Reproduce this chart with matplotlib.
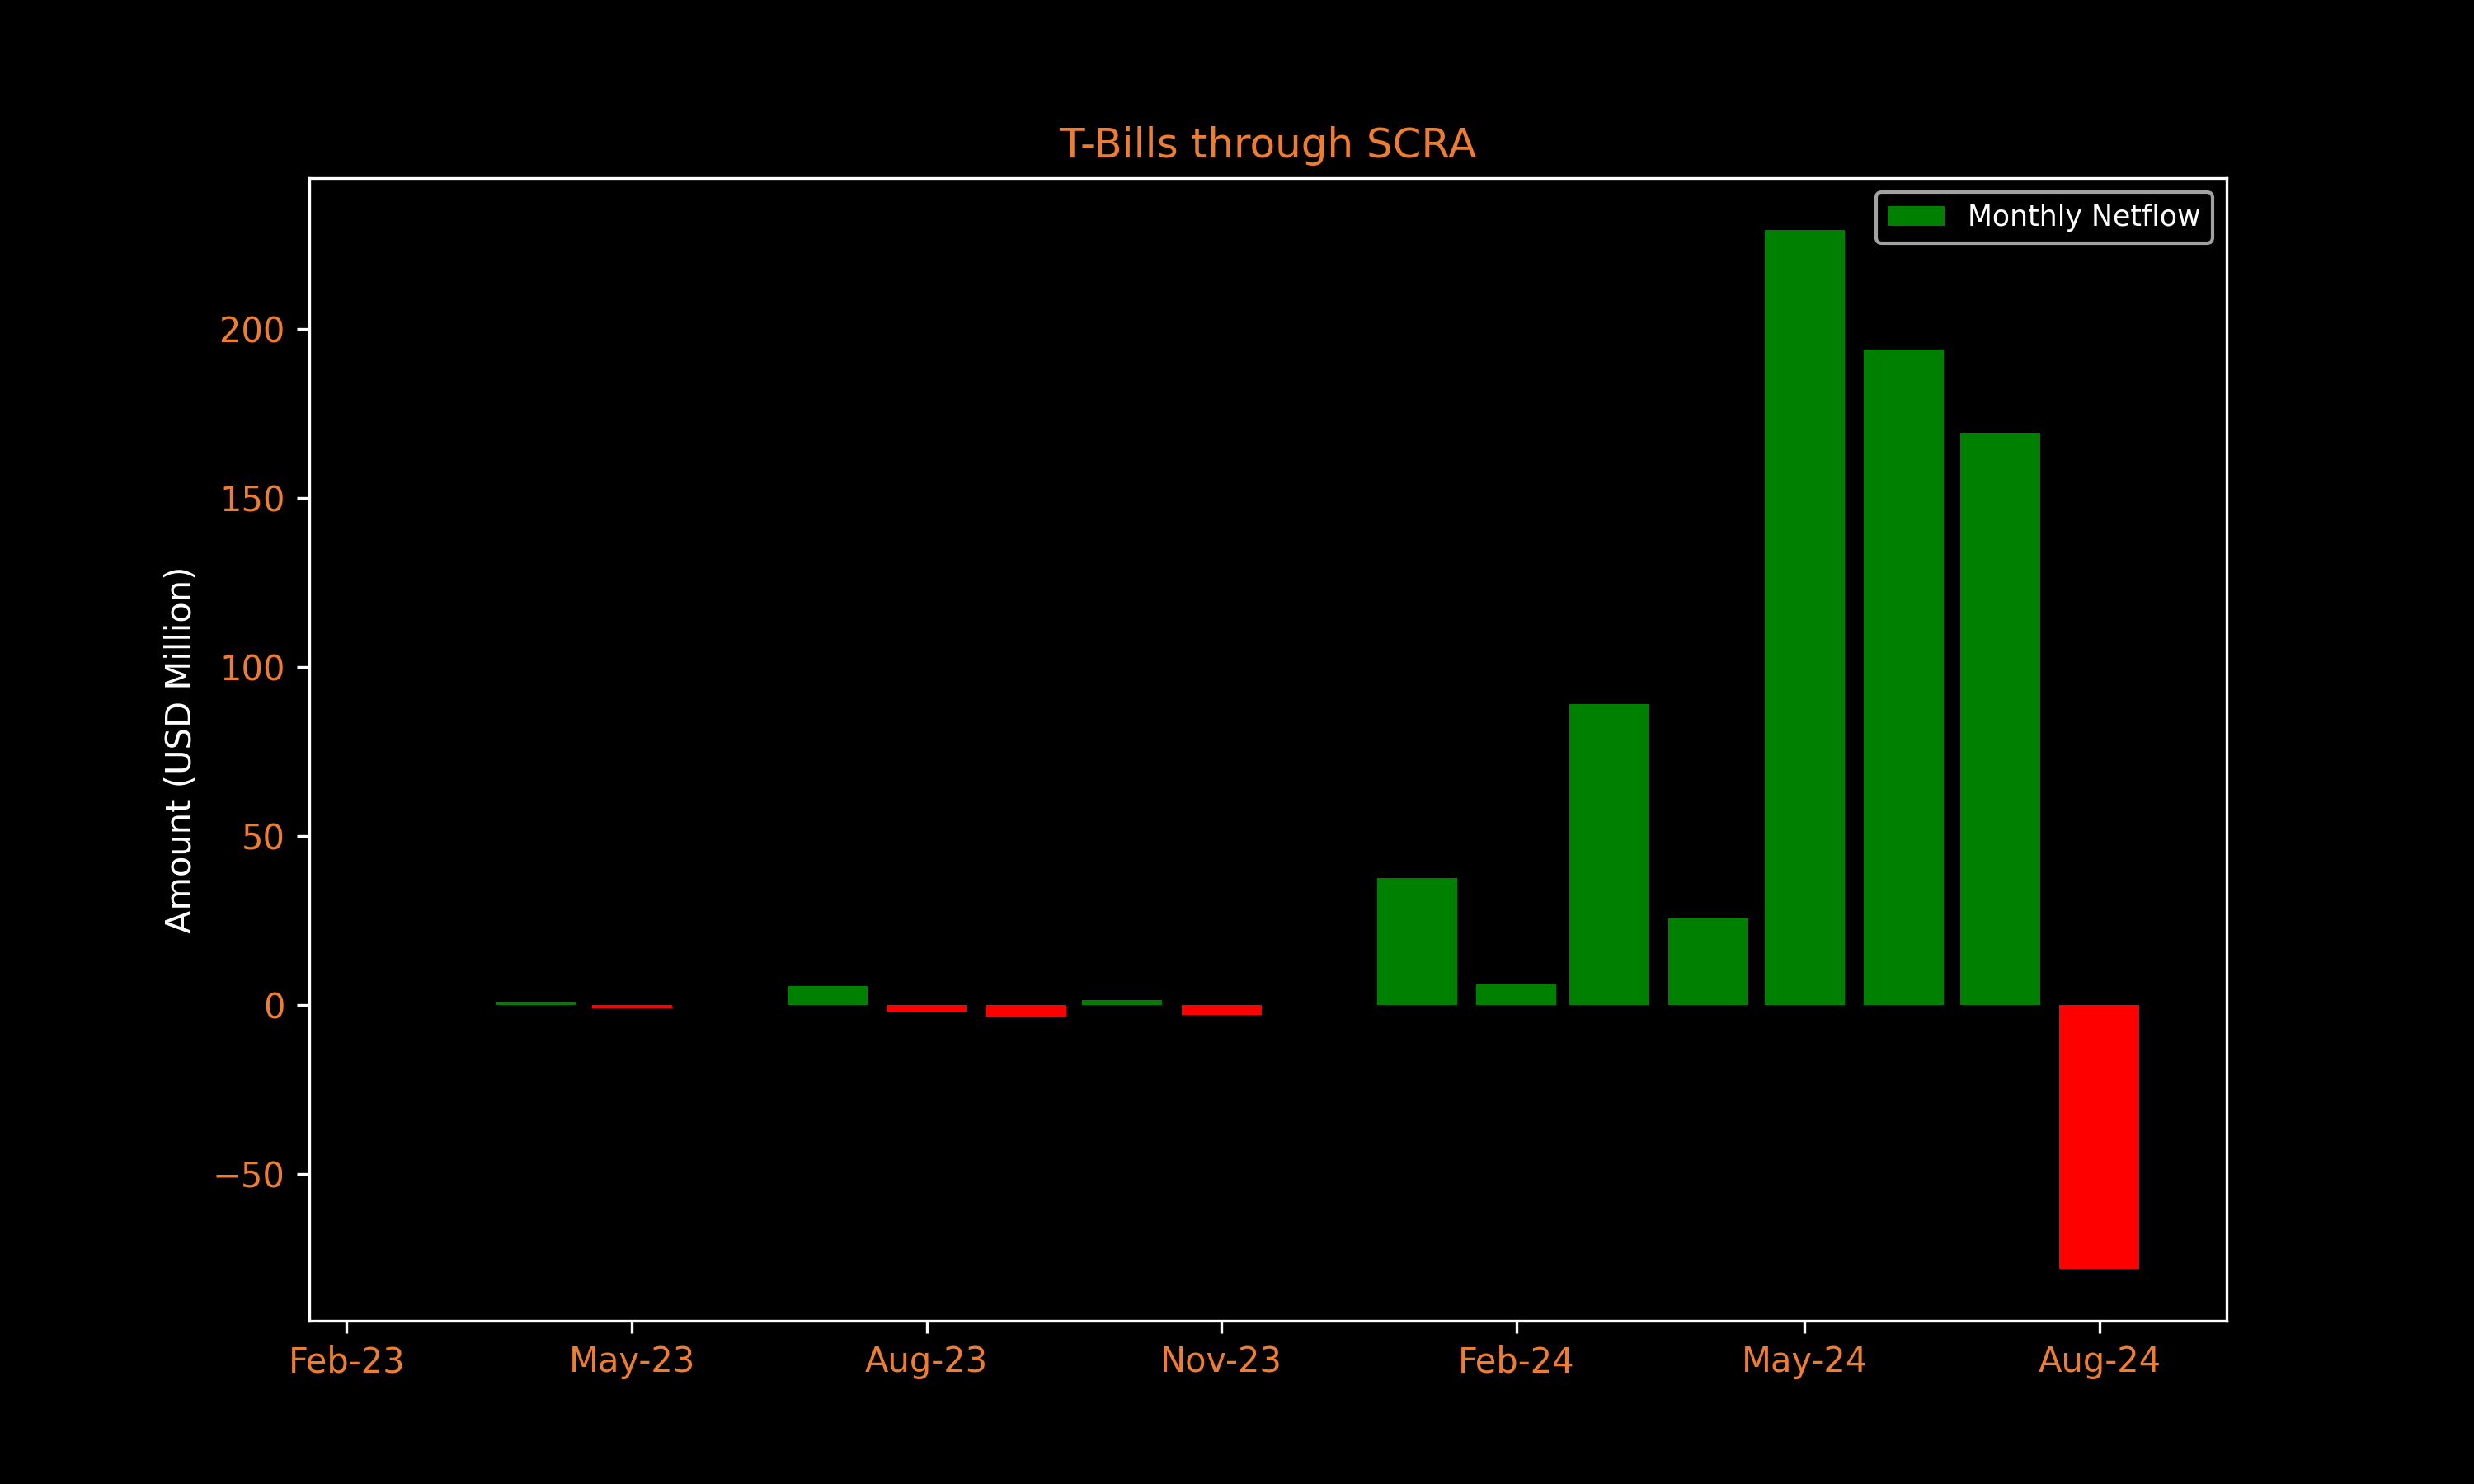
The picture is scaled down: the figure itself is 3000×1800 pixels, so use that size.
import pandas as pd
import matplotlib
matplotlib.use('Agg')
import matplotlib.pyplot as plt
import matplotlib.dates as mdates

# monthly netflow, USD million
months = pd.date_range('2023-03-01', periods=18, freq='MS')
netflow = [0, 1.0, -1.0, 0, 5.6, -1.95, -3.7, 1.5, -2.9, 0,
           37.5, 6.0, 89.0, 25.6, 229.4, 194.0, 169.4, -78.1]

orange = '#ED7D31'
plt.style.use('dark_background')
fig, ax = plt.subplots(figsize=(10, 6), dpi=300)

colors = ['green' if v >= 0 else 'red' for v in netflow]
ax.bar(months, netflow, width=25, color=colors, label='Monthly Netflow')

ax.xaxis.set_major_locator(mdates.MonthLocator(bymonth=[2, 5, 8, 11]))
ax.xaxis.set_major_formatter(mdates.DateFormatter('%b-%y'))
ax.tick_params(axis='both', labelcolor=orange)

ax.set_title('T-Bills through SCRA', color=orange)
ax.set_ylabel('Amount (USD Million)', color='white')
ax.legend(loc='upper right', fontsize='small')

fig.savefig('out.png', dpi=300)
